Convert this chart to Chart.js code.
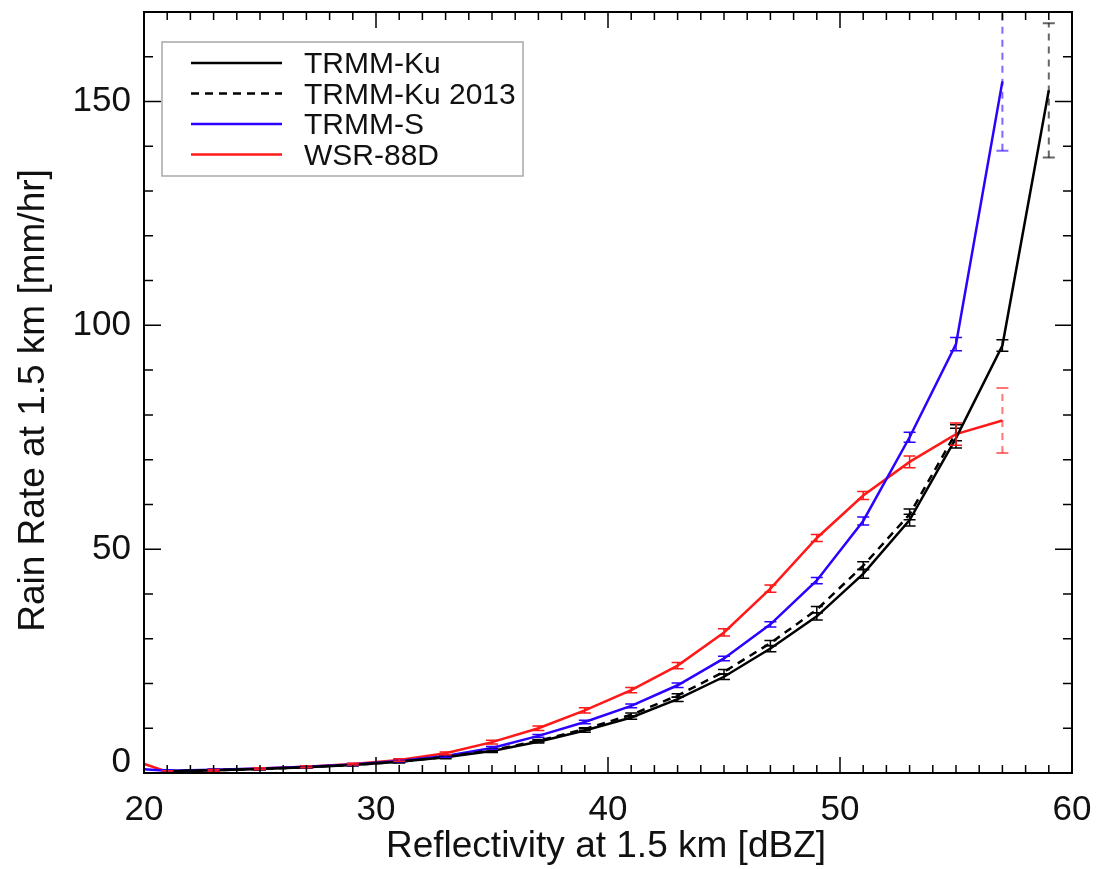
<!DOCTYPE html>
<html>
<head>
<meta charset="utf-8">
<script src="https://cdn.jsdelivr.net/npm/chart.js@4/dist/chart.umd.min.js"></script>
<style>
  html, body { margin: 0; padding: 0; background: #fff; }
  canvas { display: block; }
</style>
</head>
<body>
<canvas id="chart" width="1097" height="869"></canvas>
<script>
// reflectivity bins (dBZ)
const kuX   = [21, 23, 25, 27, 29, 31, 33, 35, 37, 39, 41, 43, 45, 47, 49, 51, 53, 55, 57, 59];
const ku13X = [21, 23, 25, 27, 29, 31, 33, 35, 37, 39, 41, 43, 45, 47, 49, 51, 53, 55];
const sX    = [19, 21, 23, 25, 27, 29, 31, 33, 35, 37, 39, 41, 43, 45, 47, 49, 51, 53, 55, 57];
const wsrX  = [19, 21, 23, 25, 27, 29, 31, 33, 35, 37, 39, 41, 43, 45, 47, 49, 51, 53, 55, 57];

// rain rate (mm/hr)
const kuY   = [0.4, 0.6, 0.9, 1.3, 1.8, 2.5, 3.5, 4.9, 7.0, 9.5, 12.4, 16.5, 21.5, 27.8, 35.0, 44.5, 56.5, 74.8, 95.5, 152.5];
const ku13Y = [0.4, 0.6, 0.9, 1.3, 1.8, 2.5, 3.6, 5.1, 7.2, 9.8, 13.0, 17.3, 22.6, 29.0, 36.5, 46.3, 57.8, 76.0];
const sY    = [1.2, 0.5, 0.7, 1.0, 1.4, 1.9, 2.7, 3.8, 5.6, 8.3, 11.4, 15.0, 19.6, 25.6, 33.2, 43.0, 56.3, 75.0, 95.8, 154.5];
const wsrY  = [3.8, 0.3, 0.6, 1.0, 1.4, 2.0, 2.9, 4.4, 6.9, 10.0, 14.0, 18.5, 24.0, 31.4, 41.2, 52.5, 62.0, 69.5, 75.7, 78.75];

// error bar half-widths (mm/hr)
const kuErr   = [0.2, 0.2, 0.2, 0.2, 0.2, 0.2, 0.3, 0.3, 0.3, 0.4, 0.4, 0.5, 0.6, 0.7, 0.8, 1.0, 1.3, 2.2, 1.3, 15.0];
const ku13Err = [0.2, 0.2, 0.2, 0.2, 0.2, 0.2, 0.2, 0.3, 0.3, 0.3, 0.4, 0.4, 0.5, 0.6, 0.7, 0.9, 1.2, 1.8];
const sErr    = [0.2, 0.2, 0.2, 0.2, 0.2, 0.2, 0.2, 0.3, 0.3, 0.3, 0.4, 0.4, 0.5, 0.5, 0.6, 0.7, 0.9, 1.1, 1.5, 15.5];
const wsrErr  = [0.3, 0.2, 0.2, 0.2, 0.2, 0.2, 0.3, 0.3, 0.4, 0.5, 0.6, 0.6, 0.7, 0.8, 0.8, 0.8, 0.9, 1.3, 2.5, 7.25];

// axes
const xTicks = [20, 30, 40, 50, 60];
const yTicks = [0, 50, 100, 150];
const xTitle = "Reflectivity at 1.5 km [dBZ]";
const yTitle = "Rain Rate at 1.5 km [mm/hr]";

const FONT = '"Liberation Sans", Arial, Helvetica, sans-serif';

function pts(xs, ys) {
  return xs.map((x, i) => ({ x: x, y: ys[i] }));
}

const datasets = [
  { label: "TRMM-Ku", data: pts(kuX, kuY), err: kuErr, borderColor: "#000000", borderDash: [] },
  { label: "TRMM-Ku 2013", data: pts(ku13X, ku13Y), err: ku13Err, borderColor: "#000000", borderDash: [8, 6] },
  { label: "TRMM-S", data: pts(sX, sY), err: sErr, borderColor: "rgb(45,0,255)", borderDash: [] },
  { label: "WSR-88D", data: pts(wsrX, wsrY), err: wsrErr, borderColor: "rgb(255,25,25)", borderDash: [] },
].map(d => Object.assign(d, {
  borderWidth: 2.5,
  pointRadius: 0,
  pointHoverRadius: 0,
  tension: 0,
  fill: false,
}));

// рамка, тики внутрь, подписи осей
const framePlugin = {
  id: "frame",
  afterDraw(chart) {
    const { ctx, chartArea: a, scales } = chart;
    const xs = scales.x, ys = scales.y;
    ctx.save();
    ctx.strokeStyle = "#000";
    ctx.lineWidth = 2;
    ctx.strokeRect(a.left, a.top, a.right - a.left, a.bottom - a.top);

    ctx.lineWidth = 1.5;
    ctx.beginPath();
    for (let v = 20; v <= 60; v += 1) {
      const px = xs.getPixelForValue(v);
      const len = v % 10 === 0 ? 16 : 8;
      ctx.moveTo(px, a.bottom); ctx.lineTo(px, a.bottom - len);
      ctx.moveTo(px, a.top); ctx.lineTo(px, a.top + len);
    }
    for (let v = 0; v <= 170; v += 10) {
      const py = ys.getPixelForValue(v);
      const len = v % 50 === 0 ? 17 : 9;
      ctx.moveTo(a.left, py); ctx.lineTo(a.left + len, py);
      ctx.moveTo(a.right, py); ctx.lineTo(a.right - len, py);
    }
    ctx.stroke();

    ctx.fillStyle = "#111";
    ctx.font = `35px ${FONT}`;
    ctx.textAlign = "center";
    ctx.textBaseline = "alphabetic";
    xTicks.forEach(v => ctx.fillText(String(v), xs.getPixelForValue(v), a.bottom + 47));

    ctx.textAlign = "right";
    ctx.textBaseline = "middle";
    yTicks.forEach(v => {
      const py = Math.min(ys.getPixelForValue(v), a.bottom - 11);
      ctx.fillText(String(v), a.left - 13, py);
    });

    ctx.font = `37px ${FONT}`;
    ctx.textAlign = "center";
    ctx.textBaseline = "alphabetic";
    ctx.fillText(xTitle, (a.left + a.right) / 2 - 2, 857);

    ctx.save();
    ctx.translate(44, (a.top + a.bottom) / 2 + 8);
    ctx.rotate(-Math.PI / 2);
    ctx.fillText(yTitle, 0, 0);
    ctx.restore();

    // легенда
    const bx = 162, by = 42, bw = 361, bh = 134;
    ctx.fillStyle = "#fff";
    ctx.fillRect(bx, by, bw, bh);
    ctx.strokeStyle = "#a8a8a8";
    ctx.lineWidth = 1.5;
    ctx.strokeRect(bx, by, bw, bh);
    ctx.font = `30px ${FONT}`;
    ctx.textAlign = "left";
    chart.data.datasets.forEach((d, i) => {
      const ly = 63 + i * 30.5;
      ctx.strokeStyle = d.borderColor;
      ctx.lineWidth = 2.5;
      ctx.setLineDash(d.borderDash);
      ctx.beginPath();
      ctx.moveTo(191, ly); ctx.lineTo(282, ly);
      ctx.stroke();
      ctx.setLineDash([]);
      ctx.fillStyle = "#111";
      ctx.fillText(d.label, 304, ly + 10);
    });
    ctx.restore();
  },
};

// усы погрешностей
const errorBarPlugin = {
  id: "errorBars",
  afterDatasetsDraw(chart) {
    const { ctx, chartArea: a, scales } = chart;
    ctx.save();
    ctx.beginPath();
    ctx.rect(a.left, a.top, a.right - a.left, a.bottom - a.top);
    ctx.clip();
    chart.data.datasets.forEach(d => {
      const n = d.data.length;
      d.data.forEach((p, i) => {
        const e = d.err[i];
        const px = scales.x.getPixelForValue(p.x);
        const y1 = scales.y.getPixelForValue(p.y - e);
        const y2 = scales.y.getPixelForValue(p.y + e);
        const last = i === n - 1 && e > 5;
        ctx.strokeStyle = d.borderColor;
        ctx.globalAlpha = last ? 0.6 : 1;
        ctx.lineWidth = last ? 2 : 1.5;
        ctx.setLineDash(last ? [7, 6] : []);
        ctx.beginPath();
        ctx.moveTo(px, y1); ctx.lineTo(px, y2);
        ctx.stroke();
        ctx.setLineDash([]);
        ctx.beginPath();
        ctx.moveTo(px - 6, y1); ctx.lineTo(px + 6, y1);
        ctx.moveTo(px - 6, y2); ctx.lineTo(px + 6, y2);
        ctx.stroke();
      });
    });
    ctx.restore();
  },
};

new Chart(document.getElementById("chart"), {
  type: "line",
  data: { datasets: datasets },
  options: {
    responsive: false,
    animation: false,
    layout: { padding: { left: 144, right: 25, top: 12, bottom: 96 } },
    plugins: { legend: { display: false }, tooltip: { enabled: false } },
    scales: {
      x: { type: "linear", min: 20, max: 60, display: false },
      y: { type: "linear", min: 0, max: 170, display: false },
    },
  },
  plugins: [errorBarPlugin, framePlugin],
});
</script>
</body>
</html>
